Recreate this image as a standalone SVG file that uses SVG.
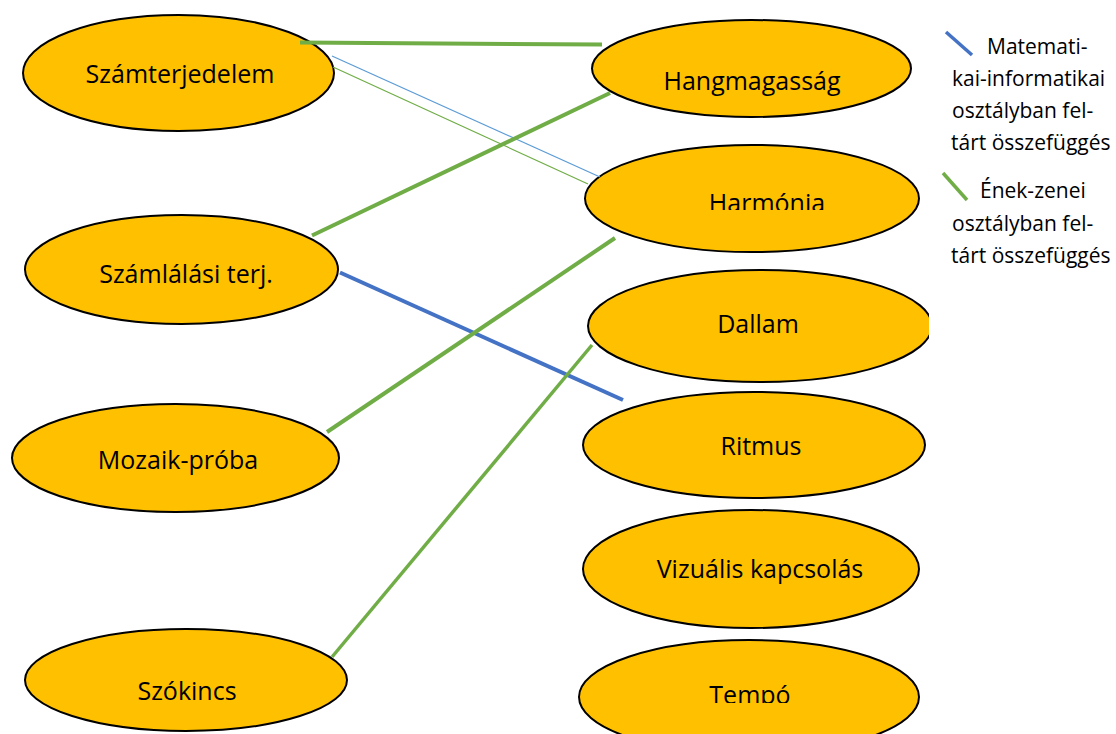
<svg xmlns="http://www.w3.org/2000/svg" width="1116" height="734" viewBox="0 0 1116 734">
<style>
.node ellipse{fill:#FFC000;stroke:#000;stroke-width:2}
.node text{font-family:"Open Sans","Noto Sans",sans-serif;font-size:25px;fill:#000;text-anchor:middle}
.leg{font-family:"Open Sans","Noto Sans",sans-serif;font-size:21px;fill:#000}
.g{stroke:#70AD47;fill:none}
.b{stroke:#4472C4;fill:none}
.lb{stroke:#5B9BD5;fill:none}
</style>
<defs>
<clipPath id="clipHarm"><rect x="0" y="0" width="1116" height="210"/></clipPath>
<clipPath id="clipTempo"><rect x="0" y="0" width="1116" height="703"/></clipPath>
<clipPath id="clipDallam"><rect x="0" y="0" width="929" height="734"/></clipPath>
</defs>
<rect width="1116" height="734" fill="#fff"/>

<g id="n-szamterjedelem" class="node"><ellipse cx="178.5" cy="73" rx="155.5" ry="58"/><text x="180" y="83">Számterjedelem</text></g>
<g id="n-szamlalasi" class="node"><ellipse cx="181.5" cy="269.5" rx="156.5" ry="54.5"/><text x="186" y="283">Számlálási terj.</text></g>
<g id="n-mozaik" class="node"><ellipse cx="175.5" cy="458" rx="163.5" ry="54"/><text x="178" y="469">Mozaik-próba</text></g>
<g id="n-szokincs" class="node"><ellipse cx="186" cy="680" rx="161" ry="51"/><text x="187" y="700">Szókincs</text></g>
<g id="n-hangmagassag" class="node"><ellipse cx="751.5" cy="68.5" rx="159.5" ry="48.5"/><text x="752" y="90">Hangmagasság</text></g>
<g id="n-harmonia" class="node"><ellipse cx="752" cy="198.5" rx="167" ry="53.5"/><text x="767" y="212" clip-path="url(#clipHarm)">Harmónia</text></g>
<g id="n-dallam" class="node" clip-path="url(#clipDallam)"><ellipse cx="760" cy="326" rx="172" ry="56"/><text x="758" y="333">Dallam</text></g>
<g id="n-ritmus" class="node"><ellipse cx="754" cy="445" rx="171" ry="53"/><text x="761" y="455">Ritmus</text></g>
<g id="n-vizualis" class="node"><ellipse cx="751" cy="569" rx="168" ry="59"/><text x="760" y="578">Vizuális kapcsolás</text></g>
<g id="n-tempo" class="node"><ellipse cx="749" cy="697" rx="170" ry="57"/><text x="750" y="704" clip-path="url(#clipTempo)">Tempó</text></g>

<g id="connectors">
<line class="g" x1="300" y1="42.5" x2="602" y2="44.5" stroke-width="4"/>
<line class="lb" x1="332" y1="56" x2="600" y2="177" stroke-width="1.2"/>
<line class="g" x1="333" y1="67" x2="588" y2="184" stroke-width="1.2"/>
<line class="g" x1="312" y1="235.5" x2="610" y2="93" stroke-width="4"/>
<line class="b" x1="340" y1="272.5" x2="623" y2="400" stroke-width="4"/>
<line class="g" x1="327" y1="432" x2="615" y2="238" stroke-width="4"/>
<line class="g" x1="332" y1="657" x2="592" y2="345" stroke-width="3.5"/>
</g>

<g id="legend">
<line class="b" x1="946" y1="32" x2="972" y2="55" stroke-width="3.5"/>
<text class="leg" x="987" y="54">Matemati-</text>
<text class="leg" x="952" y="86">kai-informatikai</text>
<text class="leg" x="952" y="118">osztályban fel-</text>
<text class="leg" x="951" y="150">tárt összefüggés</text>
<line class="g" x1="943" y1="173" x2="967" y2="200" stroke-width="3.5"/>
<text class="leg" x="980" y="198">Ének-zenei</text>
<text class="leg" x="952" y="231">osztályban fel-</text>
<text class="leg" x="951" y="263">tárt összefüggés</text>
</g>
</svg>
